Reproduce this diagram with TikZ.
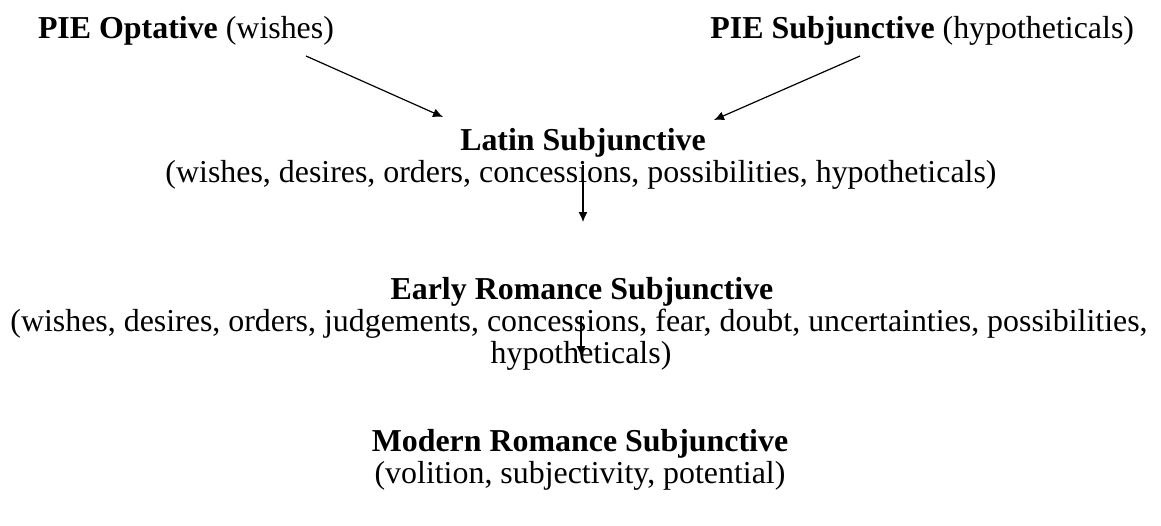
\documentclass[tikz,border=0pt]{standalone}
\usepackage{fontspec}
\setmainfont{Liberation Serif}
\usetikzlibrary{arrows.meta}
\begin{document}
\begin{tikzpicture}[x=0.5pt,y=-0.5pt,
  lbl/.style={inner sep=0pt, outer sep=0pt, align=center, font=\fontsize{15.95}{16}\selectfont},
  arr/.style={line width=0.6pt, -{Latex[length=5pt,width=4.5pt]}}]
\useasboundingbox (0,0) rectangle (1161,525);
% top row
\node[lbl, anchor=base west] (opt) at (38,38) {\textbf{PIE Optative} (wishes)};
\node[lbl, anchor=base east] (subj) at (1134,38) {\textbf{PIE Subjunctive} (hypotheticals)};
% Latin
\node[lbl, anchor=base] (lat) at (583,150) {\textbf{Latin Subjunctive}};
\node[lbl, anchor=base] (latd) at (581,182) {(wishes, desires, orders, concessions, possibilities, hypotheticals)};
% Early Romance
\node[lbl, anchor=base] (early) at (582,299) {\textbf{Early Romance Subjunctive}};
\node[lbl, anchor=base] (earlyd) at (579,331) {(wishes, desires, orders, judgements, concessions, fear, doubt, uncertainties, possibilities,};
\node[lbl, anchor=base] (earlyd2) at (581,363) {hypotheticals)};
% Modern Romance
\node[lbl, anchor=base] (mod) at (580,451) {\textbf{Modern Romance Subjunctive}};
\node[lbl, anchor=base] (modd) at (580,483) {(volition, subjectivity, potential)};
% connector ends
\coordinate (optS) at (306,56);
\coordinate (optE) at (443,117);
\coordinate (subS) at (860,56);
\coordinate (subE) at (714,120);
\coordinate (latS) at (583,165);
\coordinate (latE) at (583,222);
\coordinate (earS) at (581,316);
\coordinate (earE) at (581,356);
\draw[arr] (optS) -- (optE);
\draw[arr] (subS) -- (subE);
\draw[arr] (latS) -- (latE);
\draw[arr] (earS) -- (earE);
\end{tikzpicture}
\end{document}
